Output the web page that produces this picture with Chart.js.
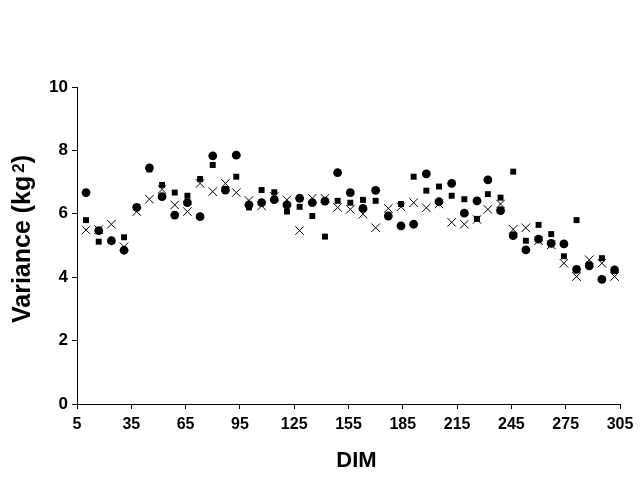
<!DOCTYPE html>
<html>
<head>
<meta charset="utf-8">
<script src="https://cdn.jsdelivr.net/npm/chart.js@4"></script>
<style>
  body { margin: 0; background: #fff; }
  #wrap { width: 640px; height: 480px; }
</style>
</head>
<body>
<div id="wrap"><canvas id="varChart" width="640" height="480"></canvas></div>
<script>
// days in milk
const dim = [10, 17, 24, 31, 38, 45, 52, 59, 66, 73, 80, 87, 93, 100, 107, 114, 121, 128, 135, 142, 149,
  156, 163, 170, 177, 184, 191, 198, 205, 212, 219, 226, 232, 239, 246, 253, 260, 267, 274, 281, 288, 295, 302];

const circles = [6.67, 5.47, 5.15, 4.85, 6.2, 7.45, 6.54, 5.96, 6.35, 5.91, 7.83, 6.75, 7.85, 6.28, 6.35, 6.45,
  6.28, 6.49, 6.35, 6.4, 7.3, 6.67, 6.17, 6.74, 5.93, 5.62, 5.67, 7.26, 6.38, 6.96, 6.02, 6.41, 7.07, 6.1,
  5.31, 4.86, 5.2, 5.07, 5.05, 4.25, 4.36, 3.93, 4.23];

const squares = [5.8, 5.12, 5.15, 5.26, 6.2, 7.4, 6.91, 6.67, 6.57, 7.1, 7.54, 6.75, 7.17, 6.2, 6.75, 6.68,
  6.07, 6.22, 5.93, 5.28, 6.41, 6.35, 6.44, 6.41, 5.95, 6.31, 7.17, 6.73, 6.86, 6.57, 6.46, 5.84, 6.62, 6.51,
  7.33, 5.15, 5.65, 5.36, 4.66, 5.8, 4.4, 4.6, 4.2];

const crosses = [5.49, 5.5, 5.67, 4.96, 6.07, 6.46, 6.77, 6.28, 6.07, 6.96, 6.7, 6.96, 6.67, 6.42, 6.25, 6.55,
  6.44, 5.47, 6.49, 6.49, 6.2, 6.14, 5.99, 5.56, 6.17, 6.22, 6.35, 6.19, 6.31, 5.73, 5.67, 5.82, 6.14, 6.31,
  5.51, 5.56, 5.15, 5.02, 4.44, 4.02, 4.55, 4.44, 4.02];

const xTicks = [5, 35, 65, 95, 125, 155, 185, 215, 245, 275, 305];
const yTicks = [0, 2, 4, 6, 8, 10];

function toPoints(vals) {
  return vals.map((v, i) => ({ x: dim[i], y: v }));
}

const fam = "'Liberation Sans', Arial, sans-serif";
const tickFont = { family: fam, size: 16, weight: 'bold' };

// axis titles drawn by hand so the "2" can be a real superscript
const axisTitles = {
  id: 'axisTitles',
  afterDraw(chart) {
    const c = chart.ctx;
    const area = chart.chartArea;
    c.save();
    c.fillStyle = '#000';
    c.textBaseline = 'alphabetic';

    // x title
    c.font = 'bold 22px ' + fam;
    c.textAlign = 'center';
    c.fillText('DIM', area.left + (area.right - area.left) / 2 + 8, 467);

    // y title, rotated
    const big = 'bold 25px ' + fam;
    const small = 'bold 17px ' + fam;
    const main = 'Variance (kg';
    c.font = big;
    const w1 = c.measureText(main).width;
    const w3 = c.measureText(')').width;
    c.font = small;
    const w2 = c.measureText('2').width;
    const gap = 3;
    const total = w1 + gap + w2 + w3;
    c.translate(30, 239);
    c.rotate(-Math.PI / 2);
    c.textAlign = 'left';
    let x = -total / 2;
    c.font = big;
    c.fillText(main, x, 0);
    x += w1 + gap;
    c.font = small;
    c.fillText('2', x, -6);
    x += w2;
    c.font = big;
    c.fillText(')', x, 0);
    c.restore();
  }
};

const ctx = document.getElementById('varChart').getContext('2d');
new Chart(ctx, {
  type: 'scatter',
  data: {
    datasets: [
      {
        label: 'x',
        data: toPoints(crosses),
        pointStyle: 'crossRot',
        pointRadius: 6,
        borderColor: '#000',
        borderWidth: 1,
        backgroundColor: '#000'
      },
      {
        label: 'circle',
        data: toPoints(circles),
        pointStyle: 'circle',
        pointRadius: 4.4,
        borderWidth: 0,
        backgroundColor: '#000'
      },
      {
        label: 'square',
        data: toPoints(squares),
        pointStyle: 'rect',
        pointRadius: 4.2,
        borderWidth: 0,
        backgroundColor: '#000'
      }
    ]
  },
  options: {
    responsive: false,
    animation: false,
    events: [],
    layout: { padding: { top: 87, right: 20, left: 0, bottom: 0 } },
    plugins: { legend: { display: false }, tooltip: { enabled: false } },
    scales: {
      x: {
        type: 'linear',
        min: 5,
        max: 305,
        afterBuildTicks: (axis) => { axis.ticks = xTicks.map(v => ({ value: v })); },
        afterFit: (axis) => { axis.height = 76; },
        grid: { drawOnChartArea: false, drawTicks: true, tickLength: 5, color: '#000' },
        border: { display: true, color: '#000', width: 1 },
        ticks: { color: '#000', font: tickFont, padding: 6, maxRotation: 0, autoSkip: false },
        title: { display: false }
      },
      y: {
        min: 0,
        max: 10,
        afterBuildTicks: (axis) => { axis.ticks = yTicks.map(v => ({ value: v })); },
        afterFit: (axis) => { axis.width = 77; },
        grid: { drawOnChartArea: false, drawTicks: true, tickLength: 5, color: '#000' },
        border: { display: true, color: '#000', width: 1 },
        ticks: { color: '#000', font: { family: fam, size: 17, weight: 'bold' }, padding: 4 },
        title: { display: false }
      }
    }
  },
  plugins: [axisTitles]
});
</script>
</body>
</html>
